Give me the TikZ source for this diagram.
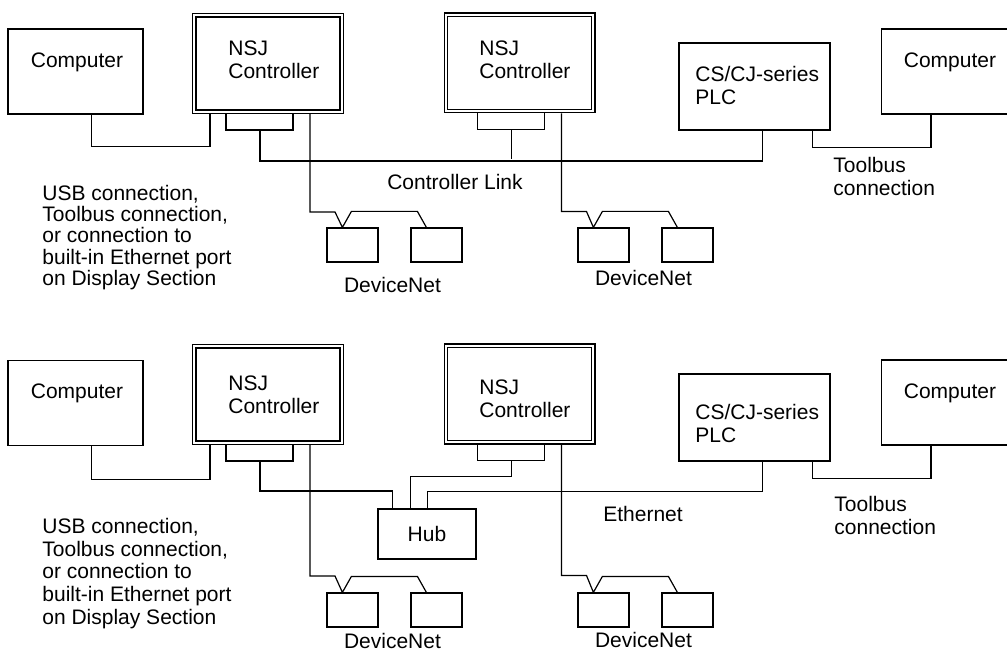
\documentclass[tikz,border=0pt]{standalone}
\usepackage{fontspec}
\setmainfont{Liberation Sans}
\usepackage{tikz}

\tikzset{
  wire/.style={line width=0.6pt},
  pcbox/.style={draw, line width=0.6pt, inner sep=0pt, minimum width=67.5pt, minimum height=42.5pt},
  nsjbox/.style={draw, double, line width=0.6pt, double distance=1.1pt, outer sep=1.15pt,
    inner sep=0pt, minimum width=73.7pt, minimum height=48.2pt},
  plcbox/.style={draw, line width=0.6pt, inner sep=0pt, minimum width=75.5pt, minimum height=43.5pt},
  hubbox/.style={draw, line width=0.6pt, inner sep=0pt, minimum width=49pt, minimum height=25pt},
  devbox/.style={draw, line width=0.6pt, inner sep=0pt, minimum width=25.5pt, minimum height=17pt},
  lbl/.style={inner sep=0pt, align=left, font=\fontsize{10.5}{11.5}\selectfont},
}

\begin{document}
\begin{tikzpicture}[x=0.5pt, y=-0.5pt]

\useasboundingbox (0,0) rectangle (1007,652);
\clip (0,0) rectangle (1007,652);

% Boxes, upper network
\node[pcbox]  (pcL1)  at (75.5,71.5) {};
\node[nsjbox] (nsjA1) at (268,63.5) {};
\node[nsjbox] (nsjB1) at (519.5,63) {};
\node[plcbox] (plc1)  at (754.5,86.5) {};
\node[pcbox]  (pcR1)  at (949,71.5) {};

% Boxes, lower network
\node[pcbox]  (pcL2)  at (75.5,403) {};
\node[nsjbox] (nsjA2) at (268,394.5) {};
\node[nsjbox] (nsjB2) at (519.5,394) {};
\node[plcbox] (plc2)  at (754.5,417.5) {};
\node[pcbox]  (pcR2)  at (949,402.5) {};
\node[hubbox, lbl] (hub) at (427,534) {Hub};

% Texts in the boxes
\foreach \n/\y in {1/62, 2/393} {
    \node[lbl] (pcL\n t) at (77,\y) {Computer};
    \node[lbl] (pcR\n t) at (950,\y) {Computer};
}
\node[lbl, anchor=west] (nsjA1t) at (228,59.5)  {NSJ\\Controller};
\node[lbl, anchor=west] (nsjB1t) at (479,60)    {NSJ\\Controller};
\node[lbl, anchor=west] (nsjA2t) at (228,395)   {NSJ\\Controller};
\node[lbl, anchor=west] (nsjB2t) at (479,398.5) {NSJ\\Controller};
\node[lbl, anchor=west] (plc1t)  at (695,85.5)  {CS/CJ-series\\PLC};
\node[lbl, anchor=west] (plc2t)  at (695,423)   {CS/CJ-series\\PLC};

% Ports under the NSJ controllers
\foreach \c in {nsjA1, nsjB1, nsjA2, nsjB2} {
    \coordinate (\c port) at ([xshift=34pt, yshift=-8pt]\c.south west);
    \draw[wire] ([xshift=17pt]\c.south west) |- (\c port)
        -| ([xshift=50.5pt]\c.south west);
}

% Computer -- NSJ (USB)
\draw[wire] ([xshift=42pt]pcL1.south west) -- ++(0,32) -| ([xshift=9pt]nsjA1.south west);
\draw[wire] ([xshift=42pt]pcL2.south west) -- ++(0,33) -| ([xshift=9pt]nsjA2.south west);

% PLC -- Computer (Toolbus)
\draw[wire] ([xshift=67pt]plc1.south west) -- ++(0,17) -| ([xshift=25pt]pcR1.south west);
\draw[wire] ([xshift=67pt]plc2.south west) -- ++(0,17) -| ([xshift=25pt]pcR2.south west);

% Controller Link
\draw[wire] (nsjA1port) -- ++(0,31) -| ([xshift=42pt]plc1.south west);
\draw[wire] (nsjB1port) -- ++(0,30);

% Ethernet over the hub
\draw[wire] (nsjA2port) -- ++(0,30) -| ([xshift=7.5pt]hub.north west);
\draw[wire] (nsjB2port) -- ++(0,16) -| ([xshift=16.5pt]hub.north west);
\draw[wire] ([xshift=25pt]hub.north west) -- ++(0,-17) -| ([xshift=42pt]plc2.south west);

% DeviceNet
\foreach \g/\c/\x/\y/\d/\ly in {dnA1/nsjA1/352.5/245/98/285, dnB1/nsjB1/603.5/245/98/278,
                                dnA2/nsjA2/352.5/610/131/641, dnB2/nsjB2/603.5/610/131/640} {
    \node[devbox] (\g-a) at (\x,\y) {};
    \node[devbox] (\g-b) at (\x+84,\y) {};
    \draw[wire] ([xshift=59pt]\c.south west) -- ++(0,\d) -- ++(25,0)
        -- ([xshift=8pt]\g-a.north west) -- ++(9,-16) -- ++(66,0)
        -- ([xshift=8pt]\g-b.north west);
    \node[lbl] (\g-t) at (\x+40,\ly) {DeviceNet};
}

% Labels
\node[lbl] (linkt) at (455,182) {Controller Link};
\node[lbl] (etht)  at (643,514) {Ethernet};
\node[lbl, anchor=west] (tool1t) at (833,176) {Toolbus\\connection};
\node[lbl, anchor=west] (tool2t) at (834,515) {Toolbus\\connection};
\node[lbl, anchor=west, font=\fontsize{10.5}{10.6}\selectfont] (usb1t) at (42,237.5)
    {USB connection,\\Toolbus connection,\\or connection to\\built-in Ethernet port\\on Display Section};
\node[lbl, anchor=west, font=\fontsize{10.5}{11.4}\selectfont] (usb2t) at (42,573.5)
    {USB connection,\\Toolbus connection,\\or connection to\\built-in Ethernet port\\on Display Section};

\end{tikzpicture}
\end{document}
